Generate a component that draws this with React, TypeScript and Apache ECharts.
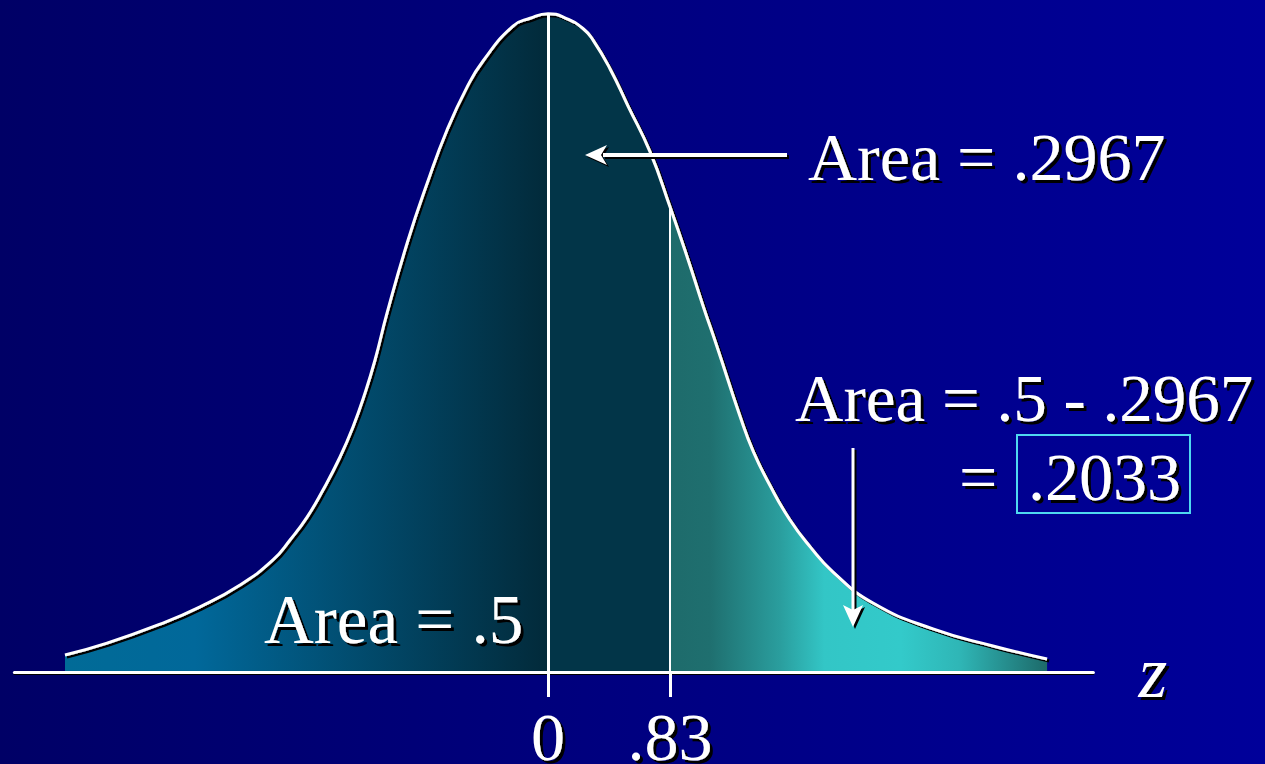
import React, { useEffect, useRef } from "react";
import * as echarts from "echarts";

// Curve: z value and density height
const zValues = [-3.286, -3.0, -2.639, -2.367, -2.095, -1.871, -1.755, -1.639, -1.531, -1.415, -1.327, -1.245, -1.177, -1.095, -0.952, -0.823, -0.687, -0.551, -0.442, -0.238, -0.122, 0, 0.122, 0.238, 0.306, 0.422, 0.544, 0.694, 0.83, 0.952, 1.054, 1.15, 1.306, 1.395, 1.51, 1.646, 1.782, 1.939, 2.211, 2.619, 3.027, 3.395];
const densities = [0.0103, 0.0175, 0.029, 0.0395, 0.0527, 0.0679, 0.08, 0.0939, 0.1103, 0.1303, 0.1485, 0.1691, 0.1891, 0.2176, 0.2618, 0.296, 0.3285, 0.3545, 0.3703, 0.3915, 0.3962, 0.399, 0.3962, 0.39, 0.383, 0.3655, 0.343, 0.3152, 0.2818, 0.25, 0.222, 0.197, 0.155, 0.1339, 0.113, 0.0921, 0.076, 0.0606, 0.0418, 0.0261, 0.0158, 0.0079];

// Marked z positions and their tick labels
const markerZ = [0, 0.83];
const tickLabels = ["0", ".83"];

// Annotation texts
const areaTopText = "Area = .2967";
const areaLeftText = "Area = .5";
const areaRightText = "Area = .5 - .2967";
const equalsText = "=";
const resultText = ".2033";
const axisName = "z";

const FONT = "'Liberation Serif', 'Times New Roman', serif";

export default function App() {
  const ref = useRef<HTMLDivElement>(null);

  useEffect(() => {
    document.body.style.margin = "0";
    if (!ref.current) return;
    const chart = echarts.init(ref.current, undefined, { renderer: "svg" });

    const zFirst = zValues[0];
    const zLast = zValues[zValues.length - 1];
    const off = (z: number) => Math.min(1, Math.max(0, (z - zFirst) / (zLast - zFirst)));

    const areaGradient = new echarts.graphic.LinearGradient(0, 0, 1, 0, [
      { offset: 0, color: "#016b97" },
      { offset: off(-2.4), color: "#01689a" },
      { offset: off(0), color: "#022a3a" },
      { offset: off(0), color: "#023548" },
      { offset: off(markerZ[1]), color: "#023548" },
      { offset: off(markerZ[1]), color: "#1e6b6b" },
      { offset: off(1.1), color: "#1f6f6f" },
      { offset: off(1.58), color: "#2a9e9e" },
      { offset: off(1.88), color: "#33c6c6" },
      { offset: off(2.4), color: "#33caca" },
      { offset: off(2.8), color: "#2fb6b6" },
      { offset: 1, color: "#1d6a6a" },
    ]);

    const markerHeights = markerZ.map((z) => densities[zValues.indexOf(z)]);

    const shadowText = {
      textShadowColor: "#000",
      textShadowOffsetX: 3,
      textShadowOffsetY: 3,
      textShadowBlur: 1,
    };

    const textEl = (text: string, x: number, y: number, size = 68) => ({
      type: "text",
      x,
      y,
      z: 100,
      silent: true,
      style: {
        text,
        fill: "#ffffff",
        font: `${size}px ${FONT}`,
        textVerticalAlign: "middle",
        textAlign: "left",
        ...shadowText,
      },
    });

    // arrow pieces: shadow copy (black, offset) then white shape
    const arrowPiece = (kind: string, shape: any, dx: number, dy: number, color: string, zz: number) => {
      if (kind === "rect") {
        return { type: "rect", z: zz, silent: true, shape: { ...shape, x: shape.x + dx, y: shape.y + dy }, style: { fill: color } };
      }
      return {
        type: "polygon",
        z: zz,
        silent: true,
        shape: { points: shape.points.map((p: number[]) => [p[0] + dx, p[1] + dy]) },
        style: { fill: color },
      };
    };
    const arrow = (pieces: [string, any][]) => [
      ...pieces.map(([k, s]) => arrowPiece(k, s, 2, 2, "#000", 99)),
      ...pieces.map(([k, s]) => arrowPiece(k, s, 0, 0, "#fff", 100)),
    ];

    const option: any = {
      animation: false,
      backgroundColor: new echarts.graphic.LinearGradient(0, 0, 1, 0, [
        { offset: 0, color: "#000066" },
        { offset: 1, color: "#00009a" },
      ]),
      grid: { left: 14.4, right: 171.6, top: 12, bottom: 92, containLabel: false, outerBoundsMode: "none" },
      xAxis: [
        {
          type: "value",
          min: -3.63,
          max: 3.71,
          z: 3,
          splitLine: { show: false },
          name: axisName,
          nameLocation: "end",
          nameGap: 45,
          nameTextStyle: {
            color: "#fff",
            fontFamily: FONT,
            fontStyle: "italic",
            fontSize: 74,
            verticalAlign: "middle",
            padding: [0, 0, 4, 0],
            ...shadowText,
          },
          axisLine: {
            show: true,
            onZero: false,
            lineStyle: { color: "#fff", width: 3 },
          },
          axisTick: {
            show: true,
            customValues: markerZ,
            length: 25,
            lineStyle: { color: "#fff", width: 3 },
          },
          axisLabel: {
            show: true,
            customValues: markerZ,
            formatter: (v: number) => {
              const i = markerZ.findIndex((m) => Math.abs(m - v) < 1e-9);
              return i >= 0 ? tickLabels[i] : "";
            },
            color: "#fff",
            fontFamily: FONT,
            fontSize: 68,
            lineHeight: 50,
            margin: 40,
            ...shadowText,
          },
        },
        {
          // dark shadow under the axis line
          type: "value",
          min: -3.63,
          max: 3.71,
          position: "bottom",
          offset: 2,
          z: 1,
          splitLine: { show: false },
          axisLine: { show: true, onZero: false, lineStyle: { color: "#000", width: 2 } },
          axisTick: { show: false },
          axisLabel: { show: false },
        },
      ],
      yAxis: { type: "value", min: 0, max: 0.4, show: false },
      series: [
        {
          type: "line",
          xAxisIndex: 0,
          data: zValues.map((z, i) => [z, densities[i]]),
          smooth: 0.5,
          symbol: "none",
          silent: true,
          lineStyle: { color: "#ffffff", width: 3, shadowColor: "#000", shadowOffsetX: 2, shadowOffsetY: 2, shadowBlur: 0 },
          areaStyle: { color: areaGradient, opacity: 1 },
          markLine: {
            silent: true,
            symbol: "none",
            label: { show: false },
            data: markerZ.map((z, i) => [
              { coord: [z, 0], lineStyle: { color: "#fff", width: i === 0 ? 3 : 2, type: "solid" } },
              { coord: [z, markerHeights[i]] },
            ]),
          },
        },
      ],
      graphic: [
        // arrow pointing to the central area
        ...arrow([
          ["rect", { x: 603, y: 153, width: 184, height: 4 }],
          ["polygon", { points: [[585, 155], [607, 145], [601, 155], [607, 165]] }],
        ]),
        textEl(areaTopText, 808, 157),
        textEl(areaLeftText, 264, 620, 69),
        textEl(areaRightText, 795, 398, 67),
        textEl(equalsText, 959, 477),
        textEl(resultText, 1028, 477),
        { type: "rect", z: 100, silent: true, shape: { x: 1017, y: 435, width: 173, height: 78 }, style: { fill: "none", stroke: "#4fd8f0", lineWidth: 2 } },
        // arrow pointing down to the tail
        ...arrow([
          ["rect", { x: 851.5, y: 448, width: 3, height: 162 }],
          ["polygon", { points: [[853, 627], [843, 605], [853, 610], [863, 605]] }],
        ]),
      ],
    };

    chart.setOption(option);
    return () => chart.dispose();
  }, []);

  return <div ref={ref} style={{ width: 1265, height: 764 }} />;
}
